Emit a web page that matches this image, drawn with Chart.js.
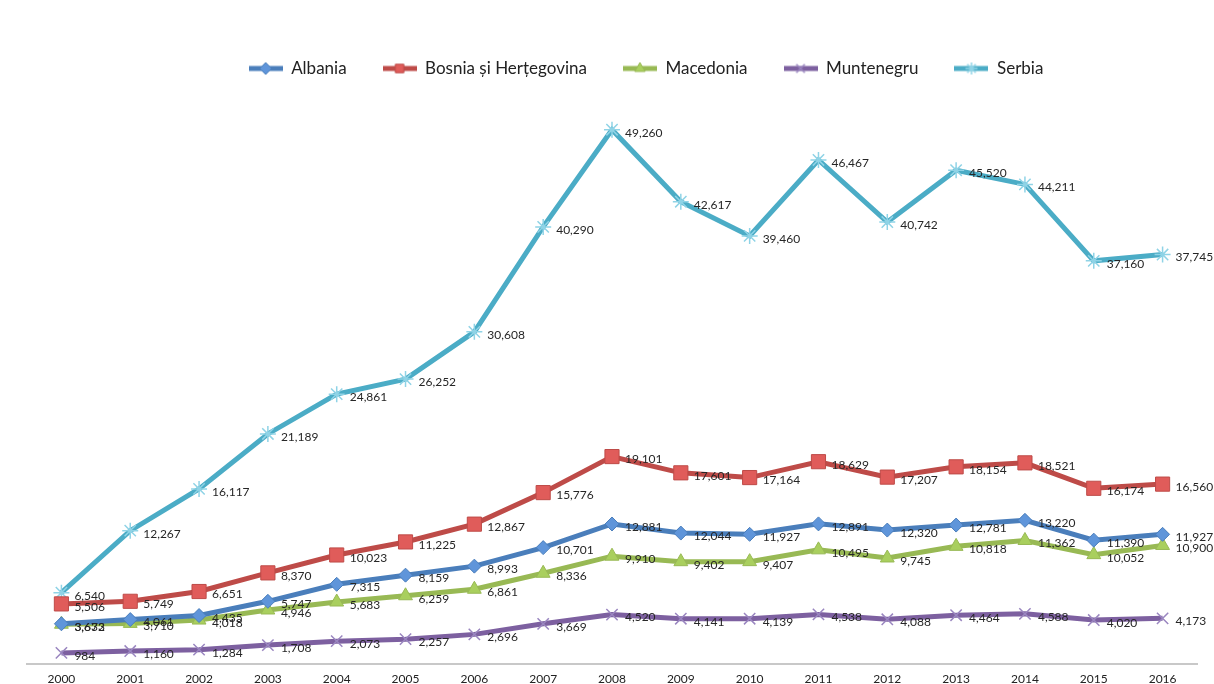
<!DOCTYPE html>
<html>
<head>
<meta charset="utf-8">
<script src="https://cdn.jsdelivr.net/npm/chart.js@4/dist/chart.umd.min.js"></script>
<style>
  html, body { margin: 0; padding: 0; background: #fff; }
  #wrap { width: 1214px; height: 684px; }
</style>
</head>
<body>
<div id="wrap"><canvas id="chart" width="1214" height="684"></canvas></div>
<script>
const years = ['2000','2001','2002','2003','2004','2005','2006','2007','2008','2009','2010','2011','2012','2013','2014','2015','2016'];

const albania    = [3673, 4061, 4435, 5747, 7315, 8159, 8993, 10701, 12881, 12044, 11927, 12891, 12320, 12781, 13220, 11390, 11927];
const bosnia     = [5506, 5749, 6651, 8370, 10023, 11225, 12867, 15776, 19101, 17601, 17164, 18629, 17207, 18154, 18521, 16174, 16560];
const macedonia  = [3632, 3710, 4018, 4946, 5683, 6259, 6861, 8336, 9910, 9402, 9407, 10495, 9745, 10818, 11362, 10052, 10900];
const muntenegru = [984, 1160, 1284, 1708, 2073, 2257, 2696, 3669, 4520, 4141, 4139, 4538, 4088, 4464, 4588, 4020, 4173];
const serbia     = [6540, 12267, 16117, 21189, 24861, 26252, 30608, 40290, 49260, 42617, 39460, 46467, 40742, 45520, 44211, 37160, 37745];

const FONT = 'Lato, "Open Sans", sans-serif';

function mk(label, data, line, fill, style, radius, bw) {
    return {
        label: label,
        data: data,
        borderColor: line,
        backgroundColor: fill,
        borderWidth: 5,
        pointStyle: style,
        pointRadius: radius,
        pointHoverRadius: radius,
        pointBackgroundColor: fill,
        pointBorderColor: style === 'crossRot' || style === 'star' ? fill : line,
        pointBorderWidth: bw,
        tension: 0,
        fill: false
    };
}

const datasets = [
    mk('Albania', albania, '#4a7ebb', '#5f95da', 'rectRot', 7, 1),
    mk('Bosnia și Herțegovina', bosnia, '#be4b48', '#e05c5a', 'rect', 10, 1),
    mk('Macedonia', macedonia, '#98b954', '#a9cf5e', 'triangle', 8, 1),
    mk('Muntenegru', muntenegru, '#7d60a0', '#9a86c0', 'crossRot', 8, 1.5),
    mk('Serbia', serbia, '#4bacc6', '#8fd3e6', 'star', 8, 1.5)
];

// small canvas icons for the legend: line with marker in the middle
function legendIcon(ds) {
    const c = document.createElement('canvas');
    c.width = 34; c.height = 18;
    const g = c.getContext('2d');
    g.strokeStyle = ds.borderColor;
    g.lineWidth = 5;
    g.beginPath(); g.moveTo(0, 9); g.lineTo(34, 9); g.stroke();
    g.fillStyle = ds.pointBackgroundColor;
    g.strokeStyle = ds.pointBorderColor;
    g.lineWidth = ds.pointBorderWidth;
    g.beginPath();
    Chart.helpers.drawPoint(g, { pointStyle: ds.pointStyle, radius: 6, borderWidth: ds.pointBorderWidth }, 17, 9);
    return c;
}

const valueLabels = {
    id: 'valueLabels',
    afterDatasetsDraw(chart) {
        const ctx = chart.ctx;
        ctx.save();
        ctx.font = '12px ' + FONT;
        ctx.fillStyle = '#262626';
        ctx.textBaseline = 'middle';
        ctx.textAlign = 'left';
        chart.data.datasets.forEach((ds, i) => {
            chart.getDatasetMeta(i).data.forEach((pt, j) => {
                ctx.fillText(ds.data[j].toLocaleString('en-US'), pt.x + 13, pt.y + 3);
            });
        });
        ctx.restore();
    }
};

const shiftLegend = {
    id: 'shiftLegend',
    afterLayout(chart) {
        chart.legend.left += 34;
        chart.legend.right += 34;
    }
};

new Chart(document.getElementById('chart'), {
    type: 'line',
    data: { labels: years, datasets: datasets },
    options: {
        responsive: false,
        animation: false,
        layout: { padding: { left: 27, right: 17, top: 24, bottom: -10 } },
        plugins: {
            legend: {
                position: 'top',
                labels: {
                    usePointStyle: true,
                    pointStyleWidth: 34,
                    padding: 36,
                    color: '#222',
                    font: { family: FONT, size: 17 },
                    generateLabels(chart) {
                        const items = Chart.defaults.plugins.legend.labels.generateLabels(chart);
                        items.forEach((it, i) => { it.pointStyle = legendIcon(chart.data.datasets[i]); });
                        return items;
                    }
                }
            },
            tooltip: { enabled: false }
        },
        scales: {
            x: {
                offset: true,
                grid: { display: false, drawTicks: false },
                border: { display: true, color: '#c8c8c8', width: 2 },
                ticks: { color: '#222', font: { family: FONT, size: 12 }, padding: 8, maxRotation: 0 }
            },
            y: {
                display: false,
                min: 0,
                max: 53200
            }
        }
    },
    plugins: [valueLabels, shiftLegend]
});
</script>
</body>
</html>
